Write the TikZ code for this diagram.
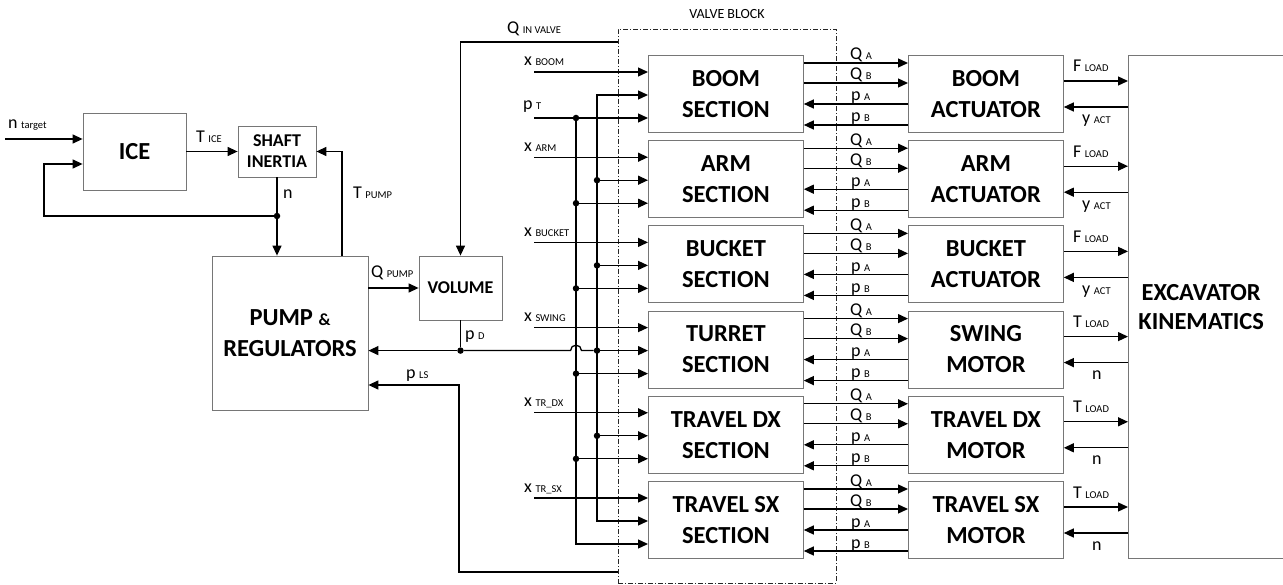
\documentclass[tikz,border=0pt]{standalone}
\usepackage{fontspec}
\setmainfont{Carlito}
\usetikzlibrary{arrows.meta,calc}
\definecolor{boxgray}{RGB}{118,118,118}
\newcommand\sublab[2]{#1\hspace{3.5pt}{\fontsize{10.5}{11}\selectfont #2}}
\begin{document}
\begin{tikzpicture}[x=1pt,y=-1pt,
  box/.style={draw=boxgray, line width=0.8pt, rectangle, inner sep=0pt, align=center, font=\bfseries\fontsize{24.5}{31}\selectfont},
  smallbox/.style={box, font=\bfseries\fontsize{18}{21}\selectfont},
  boxline/.style={draw=boxgray, line width=0.8pt},
  conn/.style={line width=1.3pt, -{Triangle[length=10pt,width=9pt]}},
  wire/.style={line width=1.3pt},
  dot/.style={circle, fill=black, inner sep=0pt, minimum size=6.5pt},
  lab/.style={inner sep=0pt, anchor=base west, font=\fontsize{18}{18}\selectfont},
]
\useasboundingbox (0,0) rectangle (1283,585);

% ---------- left part ----------
\node[box, minimum width=103pt, minimum height=77pt] (ice) at (134.5,151.5) {ICE};
\node[smallbox, minimum width=78pt, minimum height=51pt] (shaft) at (277,151.5) {SHAFT\\INERTIA};
\node[box, minimum width=156pt, minimum height=154pt] (pump) at (290,333) {PUMP {\fontsize{17}{17}\selectfont\&}\\REGULATORS};
\node[smallbox, minimum width=83pt, minimum height=64pt] (vol) at (460.5,288) {VOLUME};

% valve block
\node[draw=black!85, line width=0.8pt, dash pattern=on 5pt off 2pt on 1pt off 2pt, minimum width=218pt, minimum height=554pt, inner sep=0pt] (vb) at (727,306) {};
\node[inner sep=0pt, anchor=base, font=\fontsize{14}{14}\selectfont] (vbl) at (727,19) {VALVE BLOCK};

% excavator kinematics (right edge outside the picture)
\node[inner sep=0pt, minimum width=146pt, minimum height=503pt, anchor=north west, align=center, font=\bfseries\fontsize{24.5}{29}\selectfont] (ex) at (1128,55) {EXCAVATOR\\KINEMATICS};
\coordinate (exr) at (1283.5,0);
\draw[boxline] (ex.north west -| exr) -- (ex.north west) -- (ex.south west) -- (ex.south west -| exr);

% n target
\coordinate (nt) at (5,139);
\draw[conn] (nt) -- (nt -| ice.west);
\node[lab] (ntl) at (8,129) {\sublab{n}{target}};

% T ICE
\draw[conn] (ice.east) -- (shaft.west);
\node[lab] (til) at (196,143) {\sublab{T}{ICE}};

% n feedback
\node[dot] (nd) at (277,216) {};
\coordinate (fb) at (44,164);
\draw[wire] (shaft.south) -- (nd);
\draw[conn] (nd) -- (nd |- pump.north);
\draw[conn] (nd) -| (fb) -- (fb -| ice.west);
\node[lab] (nl) at (283,199) {n};

% T PUMP
\coordinate (tp) at (342,256);
\draw[conn] (tp) |- (shaft.east);
\node[lab] (tpl) at (353,199) {\sublab{T}{PUMP}};

% Q PUMP
\draw[conn] (vol.west -| pump.east) -- (vol.west);
\node[lab] (qpl) at (371,278) {\sublab{Q}{PUMP}};

% Q IN VALVE
\coordinate (qin) at (618,42);
\draw[conn] (qin) -| (vol.north);
\node[lab] (qinl) at (507,34) {\sublab{Q}{IN VALVE}};

% ---------- sections and actuators ----------
\coordinate (bT) at (576,0);
\coordinate (bP) at (597,0);
\foreach \sa/\ab/\ac/\xs/\fo [count=\i from 0] in {
  BOOM/BOOM/ACTUATOR/BOOM/F,
  ARM/ARM/ACTUATOR/ARM/F,
  BUCKET/BUCKET/ACTUATOR/BUCKET/F,
  TURRET/SWING/MOTOR/SWING/T,
  TRAVEL DX/TRAVEL DX/MOTOR/TR\_DX/T,
  TRAVEL SX/TRAVEL SX/MOTOR/TR\_SX/T}{
  \pgfmathsetmacro\ty{55+85.2*\i}
  \node[box, anchor=north west, minimum width=155pt, minimum height=77pt] (s\i) at (648,\ty) {\sa\\SECTION};
  \node[box, anchor=north west, minimum width=155pt, minimum height=77pt] (a\i) at (908,\ty) {\ab\\\ac};
  \coordinate (xin\i) at (648,\ty+17);
  \coordinate (pin\i) at (648,\ty+40);
  \coordinate (tin\i) at (648,\ty+63);
  \coordinate (xst\i) at (534,\ty+17);
  \draw[conn] (xst\i) -- (xin\i);
  \node[lab] (xl\i) at (524,\ty+11) {\sublab{x}{\xs}};
  % flows and pressures
  \coordinate (yqa\i) at (0,\ty+8);
  \coordinate (yqb\i) at (0,\ty+28);
  \coordinate (ypa\i) at (0,\ty+49);
  \coordinate (ypb\i) at (0,\ty+70);
  \draw[conn] (s\i.east |- yqa\i) -- (a\i.west |- yqa\i);
  \draw[conn] (s\i.east |- yqb\i) -- (a\i.west |- yqb\i);
  \draw[conn] (a\i.west |- ypa\i) -- (s\i.east |- ypa\i);
  \draw[conn] (a\i.west |- ypb\i) -- (s\i.east |- ypb\i);
  \node[lab] (lqa\i) at (850,\ty+5) {\sublab{Q}{A}};
  \node[lab] (lqb\i) at (850,\ty+25) {\sublab{Q}{B}};
  \node[lab] (lpa\i) at (851,\ty+46) {\sublab{p}{A}};
  \node[lab] (lpb\i) at (851,\ty+67) {\sublab{p}{B}};
  % load / motion
  \coordinate (yf\i) at (0,\ty+26);
  \coordinate (yb\i) at (0,\ty+52);
  \draw[conn] (a\i.east |- yf\i) -- (ex.west |- yf\i);
  \draw[conn] (ex.west |- yb\i) -- (a\i.east |- yb\i);
  \node[lab] (lf\i) at (1073,\ty+17) {\sublab{\fo}{LOAD}};
  \ifnum\i<3
    \node[lab] (lb\i) at (1082,\ty+69) {\sublab{y}{ACT}};
  \else
    \node[lab] (lb\i) at (1092,\ty+69) {n};
  \fi
  % bus taps
  \ifnum\i>0 \ifnum\i<5
    \node[dot] (dp\i) at (pin\i -| bP) {};
    \node[dot] (dt\i) at (tin\i -| bT) {};
    \draw[conn] (dp\i) -- (pin\i);
    \draw[conn] (dt\i) -- (tin\i);
  \fi\fi
}

% p T and tank bus
\coordinate (pts) at (534,118);
\node[dot] (dt0) at (tin0 -| bT) {};
\draw[conn] (tin0 -| pts) -- (tin0);
\draw[conn] (dt0) |- (tin5);
\node[lab] (ptl) at (523,110) {\sublab{p}{T}};

% supply bus
\draw[conn] (pin5 -| bP) |- (pin0);
\draw[conn] (pin0 -| bP) |- (pin5);

% p D
\node[dot] (pd) at (vol.south |- pin3) {};
\draw[wire] (vol.south) -- (pd);
\draw[conn] (pd) -- (pd -| pump.east);
\draw[wire] (pd) -- ($(pin3 -| bT)+(-5.5,0)$) arc (180:360:5.5) -- (dp3);
\node[lab] (pdl) at (465,340) {\sublab{p}{D}};

% p LS
\coordinate (pls) at (618,572);
\coordinate (plsk) at (459,385);
\draw[conn] (pls) -| (plsk) -- (plsk -| pump.east);
\node[lab] (plsl) at (406,379) {\sublab{p}{LS}};

\end{tikzpicture}
\end{document}
